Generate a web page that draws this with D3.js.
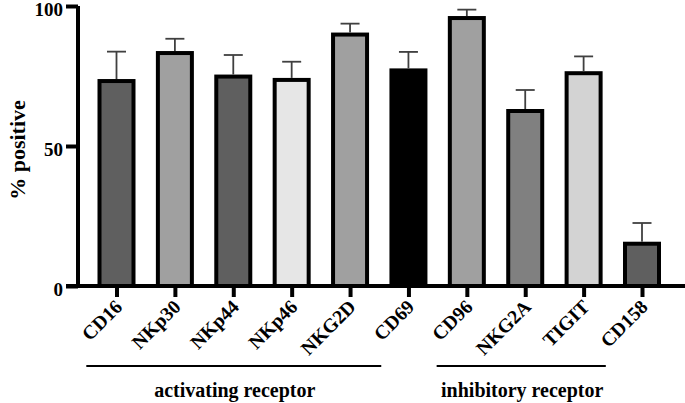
<!DOCTYPE html>
<html><head><meta charset="utf-8">
<script src="https://cdn.jsdelivr.net/npm/d3@7"></script>
<style>body{margin:0;background:#fff}svg{display:block}text{font-family:"Liberation Serif","Times New Roman",serif;font-weight:bold;fill:#000}</style>
</head><body>
<svg id="c" width="685" height="403"></svg>
<script>
const categories = ["CD16","NKp30","NKp44","NKp46","NKG2D","CD69","CD96","NKG2A","TIGIT","CD158"];
const means = [73.2, 83.2, 74.8, 73.6, 89.8, 77.0, 95.7, 62.5, 76.0, 15.1];
const errUpper = [83.7, 88.3, 82.5, 80.1, 93.7, 83.6, 98.7, 70.0, 82.0, 22.5];
const fills = ["#5f5f5f","#a0a0a0","#5f5f5f","#e6e6e6","#a0a0a0","#000000","#a0a0a0","#808080","#d3d3d3","#5f5f5f"];
const yTicks = [0, 50, 100];
const groupLabels = ["activating receptor", "inhibitory receptor"];
const groupFirst = ["CD16", "CD96"];
const groupLast = ["NKG2D", "TIGIT"];

const svg = d3.select("#c");
const x = d3.scalePoint().domain(categories).range([116.5, 642]);
const y = d3.scaleLinear().domain([0, 100]).range([286, 6]);
const barW = 34;

// bars
svg.append("g").selectAll("rect").data(categories).join("rect")
  .attr("x", d => x(d) - barW/2)
  .attr("y", (d,i) => y(means[i]))
  .attr("width", barW)
  .attr("height", (d,i) => y(0) - y(means[i]))
  .attr("fill", (d,i) => fills[i])
  .attr("stroke", "#000").attr("stroke-width", 4);

// error bars
const eg = svg.append("g").attr("stroke", "#404040").attr("stroke-width", 1.8);
eg.selectAll("line.v").data(categories).join("line").attr("class","v")
  .attr("x1", d => x(d)).attr("x2", d => x(d))
  .attr("y1", (d,i) => y(means[i]) - 2).attr("y2", (d,i) => y(errUpper[i]));
eg.selectAll("line.h").data(categories).join("line").attr("class","h")
  .attr("x1", d => x(d) - 9.5).attr("x2", d => x(d) + 9.5)
  .attr("y1", (d,i) => y(errUpper[i])).attr("y2", (d,i) => y(errUpper[i]));

// y axis
const yAxis = d3.axisLeft(y).tickValues(yTicks).tickSize(12).tickPadding(3);
const yg = svg.append("g").attr("transform", "translate(78,0)").call(yAxis);
yg.select(".domain").attr("stroke-width", 4).attr("d", "M0,6V288");
yg.selectAll(".tick line").attr("stroke-width", 4);
yg.selectAll(".tick text").attr("font-size", 19).attr("font-family", "Liberation Serif").attr("font-weight", "bold").attr("fill", "#000").attr("dy", "0.48em");

// x axis
const xAxis = d3.axisBottom(x).tickSize(11).tickFormat("");
const xg = svg.append("g").attr("transform", "translate(0,286)").call(xAxis);
xg.select(".domain").attr("stroke-width", 4).attr("d", "M66,0H685");
xg.selectAll(".tick line").attr("stroke-width", 4);

// rotated labels
svg.append("g").selectAll("text").data(categories).join("text")
  .attr("transform", d => `translate(${x(d) + 7},${308}) rotate(-45)`)
  .attr("text-anchor", "end")
  .attr("font-size", 19.5)
  .text(d => d);

// y title
svg.append("text")
  .attr("transform", "translate(25,150) rotate(-90)")
  .attr("text-anchor", "middle")
  .attr("font-size", 22)
  .text("% positive");

// group lines and labels
const step = x.step();
const gx1 = groupFirst.map(c => x(c) - step/2 - 1);
const gx2 = [x(groupLast[0]) + step/2 + 2, x(groupLast[1]) + step/2 - 7];
const gl = svg.append("g");
gl.selectAll("line").data(groupLabels).join("line")
  .attr("x1", (d,i) => gx1[i]).attr("x2", (d,i) => gx2[i])
  .attr("y1", 366).attr("y2", 366)
  .attr("stroke", "#000").attr("stroke-width", 2);
gl.selectAll("text").data(groupLabels).join("text")
  .attr("x", (d,i) => (gx1[i] + gx2[i]) / 2 + 1)
  .attr("y", 397)
  .attr("text-anchor", "middle")
  .attr("font-size", 20)
  .text(d => d);
</script>
</body></html>
